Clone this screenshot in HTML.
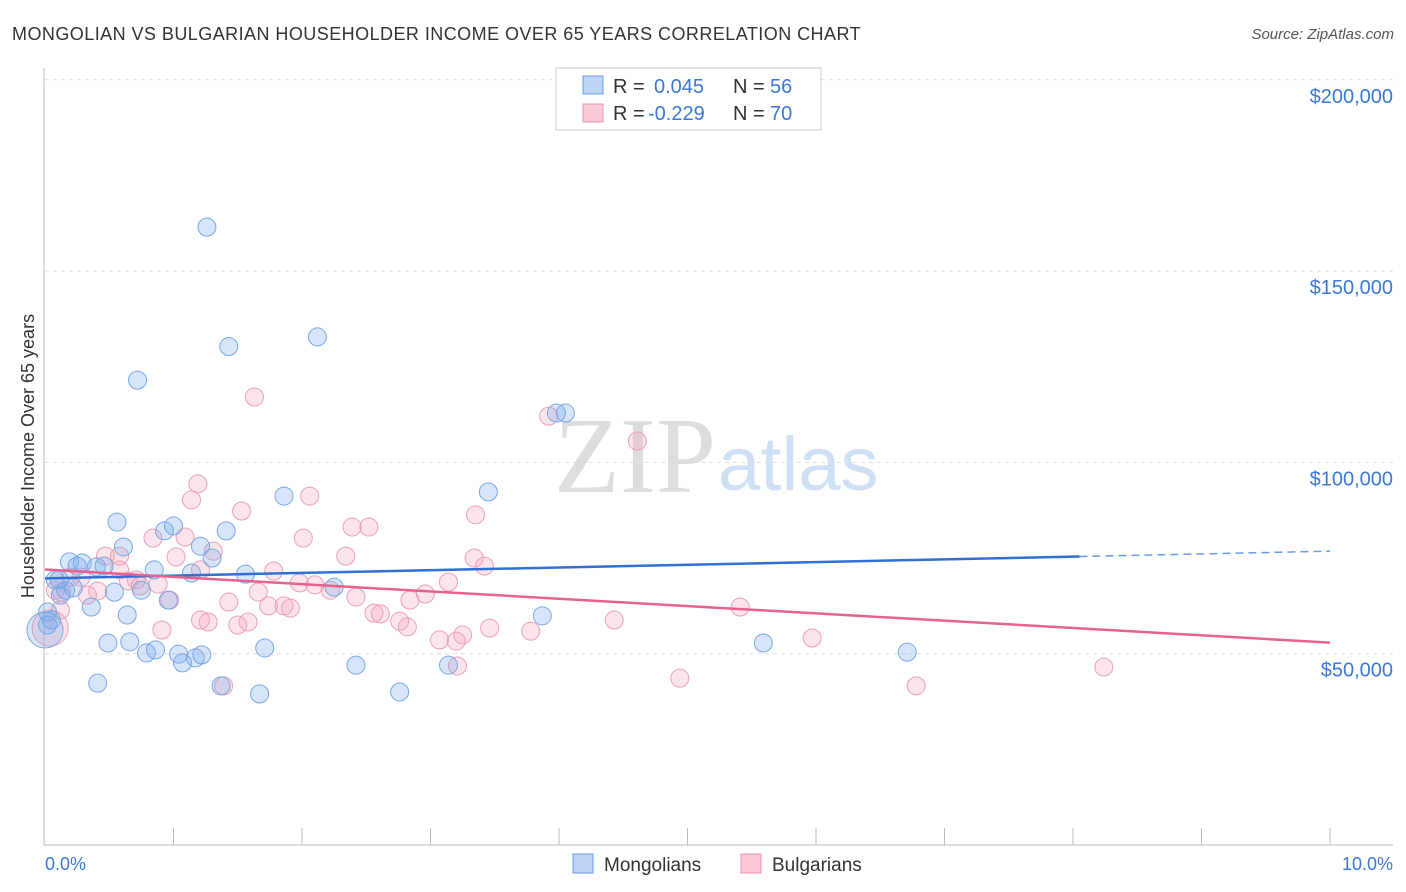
<!DOCTYPE html>
<html><head><meta charset="utf-8">
<style>
body{margin:0;background:#fff;font-family:"Liberation Sans",sans-serif}
svg{display:block}
</style></head>
<body>
<svg id="chart" width="1406" height="892" xmlns="http://www.w3.org/2000/svg">
<text x="12" y="40" font-size="18" fill="#333" letter-spacing="0.45">MONGOLIAN VS BULGARIAN HOUSEHOLDER INCOME OVER 65 YEARS CORRELATION CHART</text>
<text x="1394" y="39" font-size="15" fill="#555" font-style="italic" text-anchor="end">Source: ZipAtlas.com</text>
<text x="716" y="492" font-size="108" fill="#ddd" text-anchor="end" font-family="Liberation Serif">ZIP</text>
<text x="718" y="490" font-size="76" fill="#cfe0f5">atlas</text>
<g id="grid"></g>
<g id="marks"></g>
<g id="lines"></g>
<text transform="translate(34,456) rotate(-90)" font-size="18" fill="#333" text-anchor="middle">Householder Income Over 65 years</text>
<text x="45" y="870" font-size="18" fill="#3b78d8">0.0%</text>
<text x="1393" y="870" font-size="18" fill="#3b78d8" text-anchor="end">10.0%</text>
<g>
<rect x="556" y="68" width="265" height="62" fill="#fff" stroke="#ccc"/>
<rect x="583" y="76" width="20" height="18" fill="#bcd4f5" stroke="#6a9de0"/>
<rect x="583" y="104" width="20" height="18" fill="#fbcad7" stroke="#e892aa"/>
<text x="613" y="93" font-size="20" fill="#333">R =</text>
<text x="654" y="93" font-size="20" fill="#3b78d8">0.045</text>
<text x="733" y="93" font-size="20" fill="#333">N =</text>
<text x="770" y="93" font-size="20" fill="#3b78d8">56</text>
<text x="613" y="120" font-size="20" fill="#333">R =</text>
<text x="648" y="120" font-size="20" fill="#3b78d8">-0.229</text>
<text x="733" y="120" font-size="20" fill="#333">N =</text>
<text x="770" y="120" font-size="20" fill="#3b78d8">70</text>
</g>
<g>
<rect x="573" y="854" width="20" height="19" fill="#bcd4f5" stroke="#6a9de0"/>
<text x="604" y="871" font-size="19" fill="#333">Mongolians</text>
<rect x="741" y="854" width="20" height="19" fill="#fbcad7" stroke="#e892aa"/>
<text x="772" y="871" font-size="19" fill="#333">Bulgarians</text>
</g>
</svg>
<script>
const yTicks=[50000,100000,150000,200000];
const yTickLabels=["$50,000","$100,000","$150,000","$200,000"];
const xTicks=[1,2,3,4,5,6,7,8,9,10];
const blueX=[1.26,1.43,2.12,0.72,3.98,4.05,3.45,1.86,0.56,1.00,0.93,1.41,0.61,1.21,1.30,0.19,0.29,0.40,0.11,0.25,0.85,1.14,1.56,2.25,0.54,0.75,0.16,0.08,0.02,0.05,0.36,0.64,0.96,3.87,0.49,0.66,0.86,0.79,1.04,1.22,1.07,1.17,1.71,2.42,3.14,5.59,6.71,0.41,1.37,1.67,2.76,0.02,0.22,0.46,0.0,0.12];
const blueY=[161.5,130.3,132.8,121.5,112.9,112.9,92.3,91.2,84.4,83.4,82.1,82.1,77.9,78.1,75.0,74.0,73.7,72.7,69.3,72.9,71.9,71.1,70.8,67.4,66.1,66.6,66.6,69.3,60.9,58.8,62.2,60.1,64.0,59.9,52.8,53.1,51.0,50.2,49.9,49.7,47.6,48.9,51.5,47.0,47.0,52.8,50.4,42.3,41.6,39.5,40.0,57.5,67.2,72.9,56.2,65.3];
const blueBig=[54];
const pinkX=[1.63,3.92,4.61,1.19,1.14,2.06,1.53,3.35,2.39,2.52,0.84,2.01,1.09,2.34,1.02,1.31,0.58,0.47,3.34,3.42,1.78,0.71,0.28,0.88,0.20,1.43,3.14,1.98,2.22,1.66,0.41,0.13,0.65,2.42,2.96,1.74,1.86,1.91,2.56,2.61,1.27,1.50,1.58,0.91,2.76,2.82,3.46,3.78,4.43,5.41,3.07,3.25,3.20,5.97,1.21,4.94,6.78,1.39,8.24,3.21,0.08,0.04,0.33,0.74,0.12,0.97,2.10,2.84,1.21,0.58];
const pinkY=[117.1,112.1,105.6,94.4,90.2,91.2,87.3,86.3,83.1,83.1,80.2,80.2,80.5,75.5,75.3,76.8,75.5,75.5,75.0,72.9,71.6,69.3,70.0,68.2,70.0,63.5,68.7,68.5,66.6,66.1,66.4,66.1,69.0,64.8,65.6,62.5,62.5,61.9,60.6,60.4,58.3,57.5,58.3,56.2,58.5,57.0,56.7,55.9,58.8,62.2,53.6,54.9,53.3,54.1,58.8,43.6,41.6,41.6,46.5,46.8,66.6,56.7,65.3,67.7,61.4,64.0,68.0,64.0,71.9,71.9];
const pinkBig=[61];
const blueTrend=[[0,69.7],[8.05,75.4],[10,76.8]];
const pinkTrend=[[0,72.0],[10,52.9]];
const NS="http://www.w3.org/2000/svg";
const X=v=>45+v*128.5;
function Yk(k){return 845-k*3.826;}
function mk(t,a,p){const e=document.createElementNS(NS,t);for(const k in a)e.setAttribute(k,a[k]);p.appendChild(e);return e;}
const grid=document.getElementById('grid'),marks=document.getElementById('marks'),lines=document.getElementById('lines');
yTicks.forEach((t,i)=>{const y=Yk(t/1000);
 const l=mk('line',{x1:45,x2:1393,y1:y,y2:y,stroke:'#ddd','stroke-dasharray':'4,4'},grid);
 
 
 const tx=mk('text',{x:1393,y:y+23,'font-size':20,fill:'#3b78d8','text-anchor':'end'},grid);
 tx.textContent=yTickLabels[i];
 
 
});
const ax=mk('line',{x1:44,x2:44,y1:68,y2:845,stroke:'#bbb'},grid);


const bx=mk('line',{x1:44,x2:1393,y1:845,y2:845,stroke:'#bbb'},grid);


xTicks.forEach(t=>{const l=mk('line',{x1:X(t),x2:X(t),y1:828,y2:845,stroke:'#bbb'},grid);
 
 });
function pts(xs,ys,big,fill,stroke,name){xs.forEach((x,i)=>{
 const c=mk('circle',{cx:X(x),cy:Yk(ys[i]),r:big.includes(i)?18:9,fill:fill,stroke:stroke,'stroke-width':1},marks);
 
 });}
pts(pinkX,pinkY,pinkBig,'rgba(246,165,190,0.3)','#eba0b6','bulgarian-point');
pts(blueX,blueY,blueBig,'rgba(120,170,235,0.3)','#7aa8e4','mongolian-point');
let l1=mk('line',{x1:X(blueTrend[0][0]),y1:Yk(blueTrend[0][1]),x2:X(blueTrend[1][0]),y2:Yk(blueTrend[1][1]),stroke:'#2f6fd6','stroke-width':2.5},lines);


let l2=mk('line',{x1:X(blueTrend[1][0]),y1:Yk(blueTrend[1][1]),x2:X(blueTrend[2][0]),y2:Yk(blueTrend[2][1]),stroke:'#6a9de0','stroke-width':1.5,'stroke-dasharray':'8,5'},lines);


let l3=mk('line',{x1:X(pinkTrend[0][0]),y1:Yk(pinkTrend[0][1]),x2:X(pinkTrend[1][0]),y2:Yk(pinkTrend[1][1]),stroke:'#e8608e','stroke-width':2.5},lines);


</script>
</body></html>
